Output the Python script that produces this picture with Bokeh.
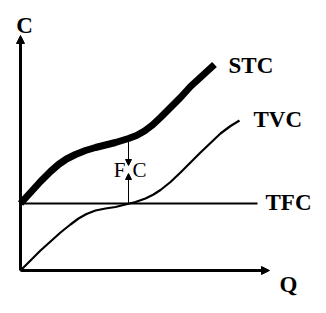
from bokeh.plotting import figure
from bokeh.models import Range1d, Arrow, NormalHead, Label
from bokeh.embed import file_html
from bokeh.resources import INLINE

# Data (origin at axes intersection)
q_stc = [0, 10, 20, 30, 38, 46, 55, 65, 75, 85, 95, 108, 116, 124, 132, 140, 150, 160, 170, 182, 194]
stc = [67, 78, 89, 99, 106, 111.5, 116, 120, 123, 125.5, 128, 132, 135, 139.5, 145.5, 153, 163, 173, 184, 195, 206]
q_tvc = [0, 10, 20, 30, 40, 50, 58, 66, 75, 85, 95, 105, 115, 125, 133, 140, 150, 160, 170, 180, 190, 200, 210, 219]
tvc = [0, 10, 20, 29, 38, 46, 52, 56.5, 60, 62, 63.5, 66, 68.5, 72, 76, 80.5, 88.5, 98, 108, 118, 127.5, 137, 144.5, 150]
tfc = 67
q_tfc_end = 237
q_axis_end = 249
c_axis_end = 235
fc_index = 11
fc_gap = [105, 97]  # arrow tip levels
curve_labels = ["STC", "TVC", "TFC"]
axis_labels = ["C", "Q"]

p = figure(width=326, height=313, x_range=Range1d(-20, 306), y_range=Range1d(-43, 270),
           output_backend="svg", toolbar_location=None, min_border=0)
p.axis.visible = False
p.grid.visible = False
p.outline_line_color = None
p.background_fill_color = "white"
p.border_fill_color = "white"

# axes with arrows
p.add_layout(Arrow(end=NormalHead(size=8, fill_color="black", line_color="black"),
                   x_start=0, y_start=0, x_end=0, y_end=c_axis_end,
                   line_width=3, line_color="black"))
p.add_layout(Arrow(end=NormalHead(size=8, fill_color="black", line_color="black"),
                   x_start=0, y_start=0, x_end=q_axis_end, y_end=0,
                   line_width=3, line_color="black"))

# curves
p.line([0, q_tfc_end], [tfc, tfc], line_width=2, color="black")
p.line(q_tvc, tvc, line_width=2.2, color="black", line_join="round")
p.line(q_stc, stc, line_width=7, color="black", line_join="round")

# FC arrows
fq = q_stc[fc_index]
p.add_layout(Arrow(end=NormalHead(size=6, fill_color="black", line_color="black"),
                   x_start=fq, y_start=stc[fc_index], x_end=fq, y_end=fc_gap[0],
                   line_width=1, line_color="black"))
p.add_layout(Arrow(end=NormalHead(size=6, fill_color="black", line_color="black"),
                   x_start=fq, y_start=tfc, x_end=fq, y_end=fc_gap[1],
                   line_width=1, line_color="black"))
p.add_layout(Label(x=fq - 3, y=(fc_gap[0] + fc_gap[1]) / 2, text="F", text_font="Liberation Serif",
                   text_font_size="21px", text_align="right", text_baseline="middle",
                   text_color="black"))
p.add_layout(Label(x=fq + 4, y=(fc_gap[0] + fc_gap[1]) / 2, text="C", text_font="Liberation Serif",
                   text_font_size="21px", text_align="left", text_baseline="middle",
                   text_color="black"))

bold = dict(text_font="Liberation Serif", text_font_style="bold", text_font_size="23px",
            text_baseline="middle", text_color="black")
p.add_layout(Label(x=q_stc[-1] + 14, y=stc[-1] - 1, text=curve_labels[0], text_align="left", **bold))
p.add_layout(Label(x=q_tvc[-1] + 14, y=tvc[-1] + 1, text=curve_labels[1], text_align="left", **bold))
p.add_layout(Label(x=q_tfc_end + 8, y=tfc + 1, text=curve_labels[2], text_align="left", **bold))
p.add_layout(Label(x=4, y=c_axis_end + 10, text=axis_labels[0], text_align="center", **bold))
p.add_layout(Label(x=q_axis_end + 19, y=-14, text=axis_labels[1], text_align="center", **bold))

open("out.html", "w").write(file_html(p, INLINE))
